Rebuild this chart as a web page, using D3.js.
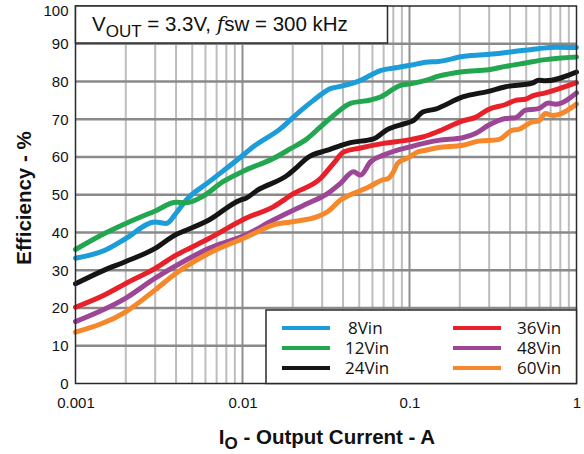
<!DOCTYPE html>
<html><head><meta charset="utf-8">
<script src="https://cdn.jsdelivr.net/npm/d3@7"></script>
<style>body{margin:0;background:#fff}svg{display:block}</style>
</head><body><svg id="c" width="584" height="454"></svg>
<script>
const seriesNames = ["8Vin","12Vin","24Vin","36Vin","48Vin","60Vin"];
const seriesColors = ["#1c9cd8","#22a650","#151515","#e8202a","#9e4696","#f5882a"];
const vin8 = [[0.001,33.2],[0.0015,35.3],[0.002,38.4],[0.003,42.8],[0.0035,42.4],[0.004,45.1],[0.0046,48.6],[0.0063,53.4],[0.0104,61.0],[0.0112,62.2],[0.0169,67.5],[0.0213,71.5],[0.0266,75.0],[0.0336,78.1],[0.0386,78.7],[0.0509,80.3],[0.067,82.9],[0.0848,83.7],[0.101,84.3],[0.125,85.1],[0.149,85.3],[0.208,86.6],[0.341,87.4],[0.431,88.0],[0.592,88.7],[0.748,89.1],[1,89.0]];
const vin12 = [[0.001,35.5],[0.0015,39.8],[0.002,42.4],[0.003,45.7],[0.004,48.0],[0.0046,47.9],[0.0058,49.6],[0.0076,53.4],[0.0104,56.5],[0.0153,59.6],[0.0194,62.2],[0.0245,64.9],[0.0293,68.0],[0.0351,71.0],[0.0443,74.2],[0.0584,75.1],[0.067,75.9],[0.0883,79.0],[0.101,79.4],[0.125,80.3],[0.149,81.4],[0.208,82.6],[0.297,83.1],[0.376,84.0],[0.495,84.9],[0.652,85.8],[1,86.5]];
const vin24 = [[0.001,26.4],[0.0015,30.1],[0.002,32.3],[0.003,35.8],[0.004,39.5],[0.0046,40.6],[0.0063,43.3],[0.0097,48.6],[0.0104,49.0],[0.0123,51.2],[0.0186,55.2],[0.0213,57.4],[0.0245,59.8],[0.0323,61.8],[0.0443,63.8],[0.0609,64.8],[0.0738,67.3],[0.0946,68.9],[0.106,69.7],[0.12,71.9],[0.143,72.7],[0.208,75.9],[0.297,77.4],[0.376,78.6],[0.545,79.6],[0.592,80.3],[0.652,80.2],[1,82.5]];
const vin36 = [[0.001,20.2],[0.0015,23.5],[0.002,26.5],[0.003,30.5],[0.004,34.0],[0.0046,35.4],[0.0063,38.4],[0.0104,43.7],[0.0153,46.8],[0.0202,50.3],[0.0293,54.3],[0.0351,58.3],[0.0403,61.3],[0.0509,62.4],[0.0699,63.6],[0.101,64.6],[0.12,65.3],[0.149,66.8],[0.208,69.6],[0.248,70.5],[0.297,72.6],[0.376,73.9],[0.431,75.0],[0.495,75.3],[0.545,76.2],[0.652,77.0],[1,79.7]];
const vin48 = [[0.001,16.4],[0.002,22.6],[0.003,27.9],[0.0046,32.7],[0.0063,35.8],[0.0104,39.3],[0.0153,43.3],[0.0245,47.7],[0.0323,50.3],[0.0386,53.0],[0.0462,56.1],[0.0509,55.2],[0.0584,58.7],[0.0699,60.5],[0.101,62.7],[0.149,64.4],[0.208,65.1],[0.248,66.2],[0.297,68.4],[0.376,70.2],[0.431,70.4],[0.495,72.4],[0.592,72.8],[0.679,74.3],[0.748,74.0],[1,77.0]];
const vin60 = [[0.001,13.6],[0.002,19.0],[0.003,24.8],[0.004,29.2],[0.0063,34.5],[0.0104,38.7],[0.0123,40.2],[0.0153,42.0],[0.0194,42.8],[0.0281,44.2],[0.0323,45.5],[0.0386,48.6],[0.0489,50.8],[0.0561,51.9],[0.0699,54.0],[0.0738,54.2],[0.0802,56.1],[0.0848,58.3],[0.101,60.1],[0.109,61.1],[0.125,61.8],[0.149,62.5],[0.208,63.1],[0.259,64.2],[0.341,64.6],[0.414,67.1],[0.449,67.3],[0.545,69.3],[0.592,69.5],[0.652,71.5],[0.718,71.0],[1,74.0]];
const seriesData = [vin8, vin12, vin24, vin36, vin48, vin60];
const xTicks = [0.001, 0.01, 0.1, 1];
const xTickLabels = ["0.001","0.01","0.1","1"];
const yTicks = [0,10,20,30,40,50,60,70,80,90,100];

const svg = d3.select("#c");
const L=75.5, R=576.5, T=6, B=383.5;
const x = d3.scaleLog().domain([0.001,1]).range([L,R]);
const y = d3.scaleLinear().domain([0,100]).range([B,T]);
const sans = "'Liberation Sans',Arial,sans-serif";

// minor vertical grid
const minor = [];
[0.001,0.01,0.1].forEach(d=>{for(let k=2;k<=9;k++) minor.push(d*k);});
svg.append("g").selectAll("line").data(minor).join("line")
  .attr("x1",d=>x(d)).attr("x2",d=>x(d)).attr("y1",T).attr("y2",B)
  .attr("stroke","#bdbdbd").attr("stroke-width",2);
svg.append("g").selectAll("line").data(xTicks.slice(1,3)).join("line")
  .attr("x1",d=>x(d)).attr("x2",d=>x(d)).attr("y1",T).attr("y2",B)
  .attr("stroke","#8f8f8f").attr("stroke-width",2);
svg.append("g").selectAll("line").data(yTicks.slice(1,10)).join("line")
  .attr("x1",L).attr("x2",R).attr("y1",d=>y(d)).attr("y2",d=>y(d))
  .attr("stroke","#8a8a8a").attr("stroke-width",2.5);

// series lines
const line = d3.line().x(d=>x(d[0])).y(d=>y(d[1])).curve(d3.curveMonotoneX);
seriesData.forEach((s,i)=>{
  svg.append("path").datum(s).attr("d",line).attr("fill","none")
    .attr("stroke",seriesColors[i]).attr("stroke-width",5)
    .attr("stroke-linejoin","round").attr("stroke-linecap","round");
});

// frame
svg.append("rect").attr("x",L).attr("y",T).attr("width",R-L).attr("height",B-T)
  .attr("fill","none").attr("stroke","#2a2a2a").attr("stroke-width",1.5);

// axes labels
const yAxis = d3.axisLeft(y).tickValues(yTicks).tickSize(0).tickPadding(7);
const gy = svg.append("g").attr("transform",`translate(${L},0)`).call(yAxis);
gy.select(".domain").remove();
gy.selectAll("text").attr("font-family",sans).attr("font-size",15).attr("fill","#111");
gy.selectAll(".tick").filter(d=>d===100).select("text").attr("dy","0.32em").attr("y",5);
const xAxis = d3.axisBottom(x).tickValues(xTicks).tickFormat((d,i)=>xTickLabels[i]).tickSize(0).tickPadding(14);
const gx = svg.append("g").attr("transform",`translate(0,${B})`).call(xAxis);
gx.select(".domain").remove();
gx.selectAll("text").attr("font-family",sans).attr("font-size",15).attr("fill","#111");

// axis titles
svg.append("text").attr("transform","translate(31,198) rotate(-90)").attr("text-anchor","middle")
  .attr("font-family",sans).attr("font-weight","bold").attr("font-size",20.5)
  .attr("fill","#111").text("Efficiency - %");
const xt = svg.append("text").attr("x",327).attr("y",444).attr("text-anchor","middle")
  .attr("font-family",sans).attr("font-weight","bold").attr("font-size",20.5).attr("fill","#111");
xt.append("tspan").text("I");
xt.append("tspan").attr("dy",5).attr("font-size",17).text("O");
xt.append("tspan").attr("dy",-5).text(" - Output Current - A");

// title box
svg.append("rect").attr("x",L).attr("y",T).attr("width",312).attr("height",37)
  .attr("fill","#fff").attr("stroke","#2a2a2a").attr("stroke-width",1.5);
const tt = svg.append("text").attr("x",92).attr("y",31)
  .attr("font-family",sans).attr("font-size",20.5).attr("fill","#111");
tt.append("tspan").text("V");
tt.append("tspan").attr("dy",6).attr("font-size",17).text("OUT");
tt.append("tspan").attr("dy",-6).text(" = 3.3V, ");
tt.append("tspan").attr("font-family","'DejaVu Serif',serif").attr("font-style","italic").text("f");
tt.append("tspan").text("sw = 300 kHz");

// legend
svg.append("rect").attr("x",266).attr("y",310).attr("width",R-266).attr("height",B-310)
  .attr("fill","#fff").attr("stroke","#2a2a2a").attr("stroke-width",1.5);
const legRows = [328,348,368];
seriesNames.forEach((n,i)=>{
  const col = Math.floor(i/3), row = i%3;
  const lx0 = col===0?282:453, lx1 = col===0?330:501, tx = col===0?(row===0?348:345):517;
  const ly = legRows[row];
  svg.append("line").attr("x1",lx0).attr("x2",lx1).attr("y1",ly).attr("y2",ly)
    .attr("stroke",seriesColors[i]).attr("stroke-width",4);
  svg.append("text").attr("x",tx).attr("y",ly+6)
    .attr("font-family","'Open Sans',sans-serif").attr("font-size",17).attr("fill","#111").text(n);
});
</script></body></html>
